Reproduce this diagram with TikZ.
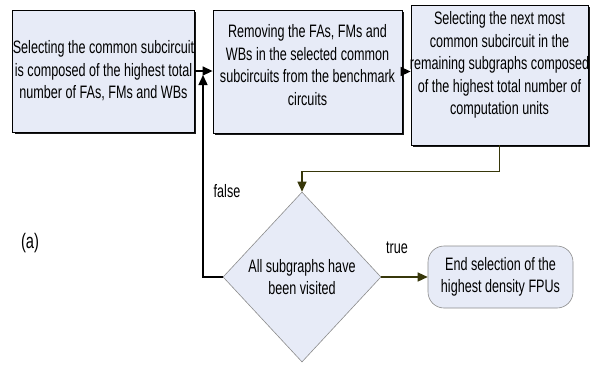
\documentclass[tikz,border=0pt]{standalone}
\usepackage{fontspec}
\setmainfont{Liberation Sans}[FakeStretch=0.7]
\usetikzlibrary{shapes.geometric,arrows.meta,shadows}
\definecolor{boxfill}{RGB}{231,235,247}
\definecolor{flowgreen}{RGB}{55,55,10}
\definecolor{edgegray}{RGB}{140,140,140}
\begin{document}
\begin{tikzpicture}[x=1pt,y=-1pt,
  every node/.style={font=\fontsize{18}{22.5}\selectfont, inner sep=0pt},
  box/.style={draw=black, line width=0.8pt, fill=boxfill, rectangle, align=center,
    drop shadow={shadow xshift=1.8pt, shadow yshift=-1.8pt, fill=black, opacity=0.9}},
  txt/.style={align=center},
  dia/.style={draw=edgegray, line width=0.6pt, fill=boxfill, diamond, minimum width=158pt, minimum height=170pt},
  endbox/.style={draw=edgegray, line width=0.6pt, fill=boxfill, rectangle, rounded corners=16pt, minimum width=145pt, minimum height=62pt, align=center},
  arr/.style={-{Triangle[length=10pt,width=9pt]}, line width=1.4pt, black},
  garr/.style={-{Triangle[length=10pt,width=9pt]}, line width=1.4pt, flowgreen}]
\useasboundingbox (0,0) rectangle (591,365);

\node[box, minimum width=179pt, minimum height=122pt] (b1) at (103.5,71)
  {Selecting the common subcircuit\\is composed of the highest total\\number of FAs, FMs and WBs};
\node[box, minimum width=189pt, minimum height=123pt,
  label={[txt, yshift=6.5pt]center:{Removing the FAs, FMs and\\WBs in the selected common\\subcircuits from the benchmark\\circuits}}] (b2) at (307.5,71.5) {};
\node[box, minimum width=177pt, minimum height=140pt,
  label={[txt, yshift=10pt]center:{Selecting the next most\\common subcircuit in the\\remaining subgraphs composed\\of the highest total number of\\computation units}}] (b3) at (499.5,75) {};
\node[dia, label={[txt]center:{All subgraphs have\\been visited}}] (d) at (302,277) {};
\node[endbox] (e) at (500.5,277) {End selection of the\\highest density FPUs};

\node (lf) at (227,191) {false};
\node (lt) at (397,248) {true};
\node (la) at (30,243) {\fontsize{21}{24}\selectfont (a)};

\coordinate (fj) at (203,75);
\draw[arr] (b1.east) -- (b1.east -| b2.west);
\draw[arr] (b2.east) -- (b2.east -| b3.west);
\draw[garr] (b3.south) -- ++(0,26) -| (d.north);
\draw[arr] (d.west) -| (fj);
\draw[garr] (d.east) -- (e.west);
\end{tikzpicture}
\end{document}
